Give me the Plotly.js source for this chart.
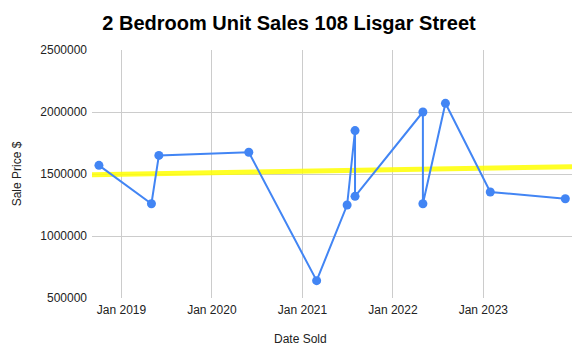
<!DOCTYPE html>
<html>
<head>
<meta charset="utf-8">
<script src="https://cdn.plot.ly/plotly-3.0.1.min.js"></script>
<style>
  html, body { margin: 0; padding: 0; background: #fff; }
  #chart { width: 578px; height: 358px; }
</style>
</head>
<body>
<div id="chart"></div>
<script>
// Sale dates and prices
const saleDates = ['2018-10-02', '2019-05-02', '2019-06-01', '2020-05-29', '2021-02-27',
                   '2021-06-30', '2021-08-01', '2021-08-01', '2022-05-02', '2022-05-02',
                   '2022-08-01', '2023-01-29', '2023-11-28'];
const salePrices = [1570000, 1260000, 1650000, 1675000, 640000,
                    1250000, 1850000, 1320000, 2000000, 1260000,
                    2070000, 1355000, 1300000];

// Trendline endpoints
const trendDates = ['2018-09-04', '2023-12-25'];
const trendValues = [1494000, 1559000];

// Axis ticks
const xTickVals = ['2019-01-01', '2020-01-01', '2021-01-01', '2022-01-01', '2023-01-01'];
const xTickText = ['Jan 2019', 'Jan 2020', 'Jan 2021', 'Jan 2022', 'Jan 2023'];
const yTickVals = [500000, 1000000, 1500000, 2000000, 2500000];

const FONT = 'Arial, "Liberation Sans", sans-serif';

const traces = [
  {
    type: 'scatter', mode: 'lines',
    x: trendDates, y: trendValues,
    line: { color: 'rgba(255,255,0,0.85)', width: 5 },
    hoverinfo: 'skip', showlegend: false
  },
  {
    type: 'scatter', mode: 'lines+markers',
    x: saleDates, y: salePrices,
    line: { color: '#4285F4', width: 2 },
    marker: { color: '#4285F4', size: 9 },
    showlegend: false
  }
];

const layout = {
  width: 578, height: 358,
  margin: { l: 92, r: 6, t: 50, b: 60 },
  paper_bgcolor: '#ffffff', plot_bgcolor: '#ffffff',
  font: { family: FONT, color: '#222222' },
  title: {
    text: '<b>2 Bedroom Unit Sales 108 Lisgar Street</b>',
    font: { family: FONT, size: 20, color: '#000000' },
    xref: 'container', x: 0.5, xanchor: 'center',
    yref: 'container', y: 1 - 22.5 / 358, yanchor: 'middle'
  },
  xaxis: {
    type: 'date',
    range: ['2018-09-04', '2023-12-25'],
    tickmode: 'array', tickvals: xTickVals, ticktext: xTickText,
    showgrid: true, gridcolor: '#cccccc', gridwidth: 1,
    zeroline: false, showline: false, ticks: '',
    ticklabelstandoff: 3,
    tickfont: { family: FONT, size: 12, color: '#222222' },
    fixedrange: true
  },
  yaxis: {
    range: [500000, 2500000],
    tickmode: 'array', tickvals: yTickVals, tickformat: 'd',
    showgrid: true, gridcolor: '#cccccc', gridwidth: 1,
    zeroline: false, showline: false, ticks: '',
    ticklabelstandoff: 4,
    tickfont: { family: FONT, size: 12, color: '#222222' },
    title: { text: 'Sale Price $', font: { family: FONT, size: 12, color: '#222222' }, standoff: 16 },
    fixedrange: true
  },
  annotations: [
    {
      text: 'Date Sold', showarrow: false,
      xref: 'paper', yref: 'paper',
      x: (300 - 92) / 480, xanchor: 'center',
      y: -(339 - 298) / 248, yanchor: 'middle',
      font: { family: FONT, size: 12, color: '#222222' }
    }
  ]
};

Plotly.newPlot('chart', traces, layout, { displayModeBar: false, staticPlot: true });
</script>
</body>
</html>
